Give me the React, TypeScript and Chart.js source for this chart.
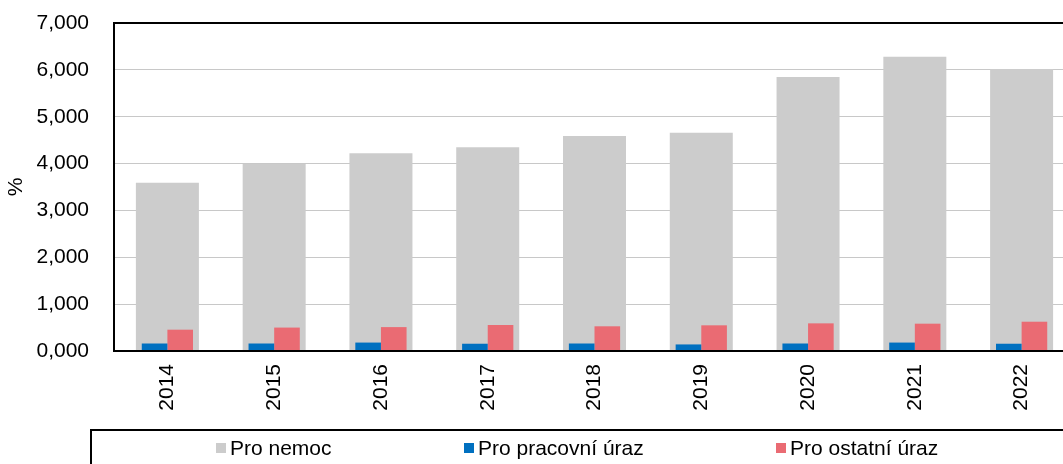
import React, { useEffect, useRef } from "react";
import { Chart, registerables } from "chart.js";

Chart.register(...registerables);

const categories = ["2014", "2015", "2016", "2017", "2018", "2019", "2020", "2021", "2022"];
const proNemoc = [3.59, 3.99, 4.22, 4.35, 4.59, 4.66, 5.85, 6.28, 6.02];
const proPracovniUraz = [0.16, 0.16, 0.18, 0.155, 0.16, 0.14, 0.16, 0.18, 0.155];
const proOstatniUraz = [0.455, 0.5, 0.51, 0.555, 0.527, 0.548, 0.59, 0.583, 0.625];
const seriesNames = ["Pro nemoc", "Pro pracovní úraz", "Pro ostatní úraz"];
const seriesColors = ["#cccccc", "#0070c0", "#ea6b73"];
const yMin = 0;
const yMax = 7;
const yStep = 1;
const yTitle = "%";

const FONT = "'Liberation Sans', Arial, sans-serif";

const frameAndLegend = {
  id: "frameAndLegend",
  afterDraw(chart: any) {
    const { ctx, chartArea } = chart;
    ctx.save();
    ctx.strokeStyle = "#000";
    ctx.lineWidth = 2;
    ctx.beginPath();
    ctx.moveTo(chartArea.left - 1, chartArea.top);
    ctx.lineTo(chartArea.right, chartArea.top);
    ctx.stroke();

    ctx.lineWidth = 2;
    ctx.strokeRect(91, 430, 1200, 200);
    const itemX = [216, 464, 776];
    ctx.font = `21px ${FONT}`;
    ctx.textBaseline = "middle";
    ctx.textAlign = "left";
    chart.data.datasets.forEach((ds: any, i: number) => {
      ctx.fillStyle = ds.backgroundColor;
      ctx.fillRect(itemX[i], 443, 10, 10);
      ctx.fillStyle = "#000";
      ctx.fillText(ds.label, itemX[i] + 14, 449);
    });
    ctx.restore();
  },
};

export default function App() {
  const ref = useRef<HTMLCanvasElement>(null);

  useEffect(() => {
    if (!ref.current) return;
    Chart.defaults.font.family = FONT;
    const chart = new Chart(ref.current, {
      type: "bar",
      data: {
        labels: categories,
        datasets: [
          {
            label: seriesNames[0],
            data: proNemoc,
            backgroundColor: seriesColors[0],
            xAxisID: "x",
            grouped: false,
            categoryPercentage: 1,
            barPercentage: 0.59,
            order: 2,
          },
          {
            label: seriesNames[1],
            data: proPracovniUraz,
            backgroundColor: seriesColors[1],
            xAxisID: "x2",
            categoryPercentage: 0.96,
            barPercentage: 1,
            order: 1,
          },
          {
            label: seriesNames[2],
            data: proOstatniUraz,
            backgroundColor: seriesColors[2],
            xAxisID: "x2",
            categoryPercentage: 0.96,
            barPercentage: 1,
            order: 1,
          },
        ],
      },
      plugins: [frameAndLegend],
      options: {
        responsive: false,
        animation: false,
        layout: { padding: { top: 23, left: 0, right: 0, bottom: 0 } },
        plugins: {
          legend: { display: false },
          tooltip: { enabled: false },
        },
        scales: {
          x: {
            type: "category",
            position: "bottom",
            offset: true,
            grid: { display: false, drawTicks: false },
            border: { display: true, color: "#000", width: 2, z: 1 },
            ticks: {
              color: "#000",
              font: { size: 21 },
              minRotation: 90,
              maxRotation: 90,
              padding: 13,
              autoSkip: false,
            },
            afterFit: (s: any) => {
              s.height = 113;
              s.paddingLeft = 0;
              s.paddingRight = 0;
            },
          },
          x2: {
            type: "category",
            display: false,
            offset: true,
          },
          y: {
            min: yMin,
            max: yMax,
            grid: { color: "#c8c8c8", lineWidth: 1, drawTicks: false },
            border: { display: true, color: "#000", width: 2, z: 1 },
            ticks: {
              stepSize: yStep,
              color: "#000",
              font: { size: 21 },
              padding: 25,
              callback: (v: any) => Number(v).toFixed(3).replace(".", ","),
            },
            title: {
              display: true,
              text: yTitle,
              color: "#000",
              font: { size: 21 },
              padding: { top: 4, bottom: 0 },
            },
            afterFit: (s: any) => {
              s.width = 114;
              s.paddingTop = 0;
              s.paddingBottom = 0;
            },
          },
        },
      } as any,
    });
    return () => chart.destroy();
  }, []);

  return (
    <div
      style={{
        position: "absolute",
        left: 0,
        top: 0,
        width: 1063,
        height: 464,
        overflow: "hidden",
        background: "#fff",
      }}
    >
      <canvas ref={ref} width={1075} height={464} style={{ display: "block" }} />
    </div>
  );
}
